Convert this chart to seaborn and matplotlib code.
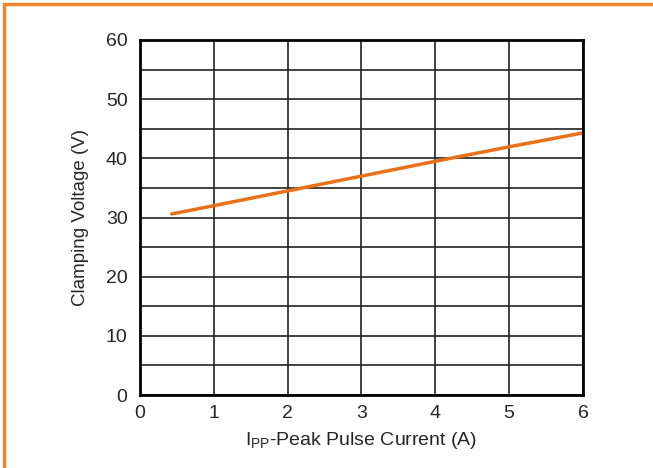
import matplotlib
matplotlib.use("Agg")
import matplotlib.pyplot as plt
import seaborn as sns
import pandas as pd
from matplotlib.patches import Rectangle

current_a = [0.43, 1.0, 2.0, 3.0, 4.0, 5.0, 6.0]
clamp_v = [30.6, 32.0, 34.5, 37.0, 39.5, 41.95, 44.3]
x_ticks = [0, 1, 2, 3, 4, 5, 6]
y_ticks = [0, 10, 20, 30, 40, 50, 60]

sns.set_style("white")
plt.rcParams['font.family'] = ['Liberation Sans', 'DejaVu Sans']

fig = plt.figure(figsize=(6.53, 4.68), dpi=100)
ax = fig.add_axes([140/653, 1-395/468, (583-140)/653, (395-40)/468])

df = pd.DataFrame({"I": current_a, "V": clamp_v})
sns.lineplot(data=df, x="I", y="V", ax=ax, color="#E8711A", linewidth=2.5)

ax.set_xlim(0, 6)
ax.set_ylim(0, 60)
ax.set_xticks(x_ticks)
ax.set_yticks(y_ticks)
ax.set_yticks(range(0, 61, 5), minor=True)
ax.grid(True, which="major", color="#222222", linewidth=1.2)
ax.grid(True, which="minor", axis="y", color="#222222", linewidth=1.2)
ax.tick_params(which="both", length=0, labelsize=14)
ax.tick_params(axis="y", pad=9)
ax.tick_params(axis="x", pad=7)
for s in ax.spines.values():
    s.set_color("black")
    s.set_linewidth(2)
ax.set_xlabel(r"I$_\mathregular{PP}$-Peak Pulse Current (A)", fontsize=14, labelpad=6)
ax.set_ylabel("Clamping Voltage (V)", fontsize=13.5, labelpad=12)

fig.patches.append(Rectangle((4/653, -0.1), 1.2, 1-4/468+0.1, transform=fig.transFigure,
                             fill=False, edgecolor="#F0862A", linewidth=2.5))

fig.savefig("out.png", dpi=100)
